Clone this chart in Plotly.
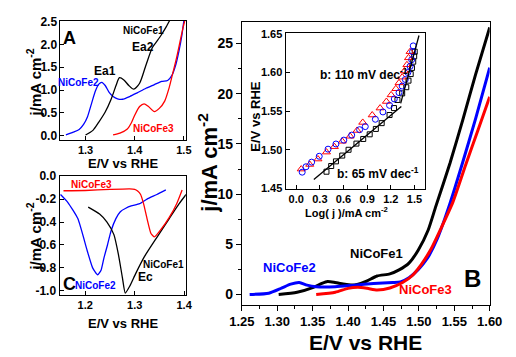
import plotly.graph_objects as go

W, H = 516, 357
FONT = "Liberation Sans, Arial, sans-serif"

# ---------- Panel A (anodic, low current) ----------
a_e_ncf1 = [1.300, 1.315, 1.327, 1.340, 1.352, 1.362, 1.369, 1.378, 1.388, 1.398, 1.410, 1.423, 1.436, 1.446, 1.455, 1.464, 1.471]
a_j_ncf1 = [0.02, 0.12, 0.30, 0.52, 0.80, 1.10, 1.27, 1.22, 1.10, 1.02, 1.15, 1.55, 1.93, 2.08, 2.22, 2.38, 2.52]
a_e_ncf2 = [1.260, 1.275, 1.287, 1.296, 1.304, 1.312, 1.320, 1.327, 1.333, 1.340, 1.348, 1.356, 1.365, 1.375, 1.390, 1.405, 1.423, 1.440, 1.455, 1.467, 1.476, 1.484, 1.490, 1.496, 1.500]
a_j_ncf2 = [0.02, 0.08, 0.14, 0.25, 0.42, 0.70, 0.98, 1.13, 1.17, 1.10, 0.95, 0.86, 0.81, 0.80, 0.86, 0.94, 1.04, 1.12, 1.19, 1.21, 1.33, 1.57, 1.85, 2.20, 2.52]
a_e_ncf3 = [1.356, 1.370, 1.385, 1.393, 1.400, 1.410, 1.419, 1.428, 1.440, 1.450, 1.461, 1.470, 1.477, 1.485, 1.492, 1.498, 1.502]
a_j_ncf3 = [0.02, 0.06, 0.15, 0.28, 0.45, 0.64, 0.70, 0.64, 0.53, 0.60, 0.76, 1.05, 1.35, 1.70, 2.05, 2.35, 2.52]

# ---------- Panel C (cathodic) ----------
c_e_ncf1 = [1.206, 1.229, 1.244, 1.258, 1.267, 1.275, 1.281, 1.290, 1.302, 1.320, 1.344, 1.370, 1.390, 1.404]
c_j_ncf1 = [-0.27, -0.33, -0.40, -0.51, -0.68, -0.88, -1.02, -0.96, -0.85, -0.70, -0.54, -0.37, -0.24, -0.16]
c_e_ncf2 = [1.150, 1.165, 1.185, 1.204, 1.215, 1.225, 1.232, 1.238, 1.245, 1.252, 1.262, 1.271, 1.282, 1.293, 1.310, 1.325, 1.345, 1.363]
c_j_ncf2 = [-0.16, -0.23, -0.37, -0.65, -0.80, -0.86, -0.82, -0.71, -0.60, -0.48, -0.37, -0.31, -0.28, -0.26, -0.24, -0.20, -0.16, -0.12]
c_e_ncf3 = [1.156, 1.200, 1.250, 1.290, 1.300, 1.306, 1.312, 1.318, 1.325, 1.333, 1.340, 1.354, 1.370, 1.385, 1.396]
c_j_ncf3 = [-0.127, -0.125, -0.115, -0.11, -0.115, -0.13, -0.16, -0.24, -0.37, -0.50, -0.53, -0.46, -0.36, -0.24, -0.12]

# ---------- Panel B (full LSV) ----------
b_e_ncf1 = [1.302, 1.328, 1.351, 1.363, 1.371, 1.380, 1.387, 1.398, 1.409, 1.418, 1.427, 1.441, 1.459, 1.472, 1.486, 1.499, 1.513, 1.524, 1.544, 1.562, 1.580, 1.600]
b_j_ncf1 = [0.0, 0.22, 0.71, 1.10, 1.29, 1.22, 1.12, 1.00, 0.95, 1.10, 1.36, 1.84, 2.05, 2.45, 3.13, 4.41, 6.40, 8.80, 13.1, 17.4, 21.9, 26.6]
b_e_ncf2 = [1.261, 1.288, 1.306, 1.319, 1.331, 1.342, 1.355, 1.382, 1.409, 1.436, 1.463, 1.474, 1.486, 1.499, 1.512, 1.526, 1.544, 1.562, 1.580, 1.600]
b_j_ncf2 = [0.0, 0.13, 0.64, 1.03, 1.19, 0.93, 0.77, 0.77, 0.93, 1.09, 1.19, 1.26, 1.67, 2.48, 3.61, 5.55, 9.10, 13.2, 17.5, 22.6]
b_e_ncf3 = [1.355, 1.382, 1.400, 1.414, 1.427, 1.441, 1.459, 1.477, 1.490, 1.503, 1.517, 1.530, 1.548, 1.566, 1.584, 1.600]
b_j_ncf3 = [0.0, 0.22, 0.61, 0.71, 0.61, 0.45, 0.64, 1.19, 1.84, 2.96, 4.50, 6.40, 9.20, 12.9, 16.5, 19.7]

# ---------- Inset (Tafel) ----------
t_log_ncf1 = [0.384, 0.444, 0.504, 0.584, 0.664, 0.764, 0.85, 0.932, 1.01, 1.084, 1.184, 1.24, 1.284, 1.344, 1.396, 1.424, 1.452, 1.468, 1.484, 1.496, 1.503]
t_e_ncf1 = [1.4716, 1.479, 1.485, 1.4925, 1.500, 1.508, 1.514, 1.520, 1.527, 1.5345, 1.545, 1.554, 1.5645, 1.573, 1.581, 1.5895, 1.598, 1.606, 1.614, 1.621, 1.627]
t_log_ncf2 = [0.076, 0.124, 0.196, 0.292, 0.404, 0.504, 0.604, 0.704, 0.804, 0.876, 1.004, 1.10, 1.184, 1.244, 1.304, 1.344, 1.384, 1.416, 1.444, 1.464, 1.476, 1.484]
t_e_ncf2 = [1.471, 1.478, 1.484, 1.4916, 1.5008, 1.5075, 1.5125, 1.519, 1.526, 1.530, 1.5395, 1.549, 1.5575, 1.5658, 1.574, 1.5825, 1.591, 1.600, 1.608, 1.6166, 1.627, 1.6345]
t_log_ncf3 = [0.064, 0.172, 0.276, 0.384, 0.484, 0.584, 0.684, 0.772, 0.844, 0.964, 1.064, 1.144, 1.204, 1.264, 1.304, 1.344, 1.372, 1.404, 1.424, 1.444]
t_e_ncf3 = [1.475, 1.481, 1.488, 1.497, 1.504, 1.511, 1.5175, 1.525, 1.5354, 1.545, 1.554, 1.5625, 1.571, 1.579, 1.5866, 1.594, 1.602, 1.610, 1.619, 1.627]
fit_low_log = [0.224, 1.333]
fit_low_e = [1.4616, 1.556]
fit_high_log = [1.325, 1.557]
fit_high_e = [1.560, 1.648]

BLACK, BLUE, RED = "#000000", "#0000ff", "#ff0000"


def px(x):
    return x / W


def py(y):
    return 1 - y / H


fig = go.Figure()

# Panel A
for e, j, c in [(a_e_ncf2, a_j_ncf2, BLUE), (a_e_ncf1, a_j_ncf1, BLACK), (a_e_ncf3, a_j_ncf3, RED)]:
    fig.add_trace(go.Scatter(x=e, y=j, mode="lines", line=dict(color=c, width=1.3, shape="spline", smoothing=0.7),
                             xaxis="x", yaxis="y", showlegend=False))
# Panel C
for e, j, c in [(c_e_ncf2, c_j_ncf2, BLUE), (c_e_ncf1, c_j_ncf1, BLACK), (c_e_ncf3, c_j_ncf3, RED)]:
    fig.add_trace(go.Scatter(x=e, y=j, mode="lines", line=dict(color=c, width=1.3, shape="spline", smoothing=0.5),
                             xaxis="x2", yaxis="y2", showlegend=False))
# Panel B
for e, j, c in [(b_e_ncf1, b_j_ncf1, BLACK), (b_e_ncf2, b_j_ncf2, BLUE), (b_e_ncf3, b_j_ncf3, RED)]:
    fig.add_trace(go.Scatter(x=e, y=j, mode="lines", line=dict(color=c, width=3, shape="spline", smoothing=0.6),
                             xaxis="x3", yaxis="y3", showlegend=False))
# Inset
fig.add_trace(go.Scatter(x=t_log_ncf1, y=t_e_ncf1, mode="markers",
                         marker=dict(symbol="square-open", size=5, color=BLACK, line=dict(width=1)),
                         xaxis="x4", yaxis="y4", showlegend=False))
fig.add_trace(go.Scatter(x=t_log_ncf3, y=t_e_ncf3, mode="markers",
                         marker=dict(symbol="triangle-up-open", size=7, color=RED, line=dict(width=1)),
                         xaxis="x4", yaxis="y4", showlegend=False))
fig.add_trace(go.Scatter(x=t_log_ncf2, y=t_e_ncf2, mode="markers",
                         marker=dict(symbol="circle-open", size=6, color=BLUE, line=dict(width=1)),
                         xaxis="x4", yaxis="y4", showlegend=False))
fig.add_trace(go.Scatter(x=fit_low_log, y=fit_low_e, mode="lines", line=dict(color=BLACK, width=1.3),
                         xaxis="x4", yaxis="y4", showlegend=False))
fig.add_trace(go.Scatter(x=fit_high_log, y=fit_high_e, mode="lines", line=dict(color=BLACK, width=1.3),
                         xaxis="x4", yaxis="y4", showlegend=False))

tf_small = dict(family=FONT, size=12, color="black", weight="bold")
tf_smallx = dict(family=FONT, size=11, color="black", weight="bold")
tf_inset = dict(family=FONT, size=11, color="black", weight="bold")

common = dict(showline=True, linecolor="black", linewidth=1, mirror=True, showgrid=False, zeroline=False,
              ticks="inside", ticklen=4, tickcolor="black", tickwidth=1)

fig.update_layout(
    width=W, height=H, margin=dict(l=0, r=0, t=0, b=0),
    paper_bgcolor="white", plot_bgcolor="rgba(0,0,0,0)",
    font=dict(family=FONT, color="black"),
    xaxis=dict(domain=[px(50), px(182)], range=[1.249, 1.504], anchor="y", tickvals=[1.3, 1.4, 1.5],
               ticktext=["1.3", "1.4", "1.5"], tickfont=tf_smallx, ticklabelstandoff=0, **common),
    yaxis=dict(domain=[py(138), py(15)], range=[-0.085, 2.52], anchor="x", tickvals=[0, 0.5, 1.0, 1.5, 2.0, 2.5],
               ticktext=["0.0", "0.5", "1.0", "1.5", "2.0", "2.5"], tickfont=tf_small, **common),
    xaxis2=dict(domain=[px(49), px(182)], range=[1.148, 1.4035], anchor="y2", tickvals=[1.2, 1.3, 1.4],
                ticktext=["1.2", "1.3", "1.4"], tickfont=tf_smallx, ticklabelstandoff=0, **common),
    yaxis2=dict(domain=[py(298), py(175)], range=[-1.035, 0.005], anchor="x2",
                tickvals=[0, -0.2, -0.4, -0.6, -0.8, -1.0],
                ticktext=["0.0", "-0.2", "-0.4", "-0.6", "-0.8", "-1.0"], tickfont=tf_small, **common),
    xaxis3=dict(domain=[px(241), px(502)], range=[1.25, 1.60], anchor="y3",
                tickvals=[1.25, 1.30, 1.35, 1.40, 1.45, 1.50, 1.55, 1.60],
                ticktext=["1.25", "1.30", "1.35", "1.40", "1.45", "1.50", "1.55", "1.60"],
                tickfont=dict(family=FONT, size=13, color="black", weight="bold"),
                minor=dict(dtick=0.025, ticks="outside", ticklen=3, tickcolor="black"),
                **{**common, "ticks": "outside", "ticklen": 5}),
    yaxis3=dict(domain=[py(308), py(16)], range=[-1.0, 27.2], anchor="x3",
                tickvals=[0, 5, 10, 15, 20, 25], ticktext=["0", "5", "10", "15", "20", "25"],
                tickfont=dict(family=FONT, size=14, color="black", weight="bold"),
                minor=dict(dtick=2.5, ticks="outside", ticklen=3, tickcolor="black"),
                **{**common, "ticks": "outside", "ticklen": 5}),
    xaxis4=dict(domain=[px(287), px(434)], range=[-0.135, 1.635], anchor="y4",
                tickvals=[0.0, 0.3, 0.6, 0.9, 1.2, 1.5], ticktext=["0.0", "0.3", "0.6", "0.9", "1.2", "1.5"],
                tickfont=tf_inset, **common),
    yaxis4=dict(domain=[py(189), py(28)], range=[1.449, 1.651], anchor="x4",
                tickvals=[1.45, 1.50, 1.55, 1.60, 1.65], ticktext=["1.45", "1.50", "1.55", "1.60", "1.65"],
                tickfont=tf_inset, **common),
)

ann = []


def add_text(text, x, y, size, color="black", angle=0):
    ann.append(dict(text=text, x=px(x), y=py(y), xref="paper", yref="paper", showarrow=False,
                    xanchor="center", yanchor="middle", textangle=angle,
                    font=dict(family=FONT, size=size, color=color, weight="bold")))


# axis titles
add_text("j/mA cm<sup>-2</sup>", 22, 79, 15, angle=-90)
add_text("E/V vs RHE", 116, 162, 13)
add_text("j/mA cm<sup>-2</sup>", 22, 238, 15, angle=-90)
add_text("E/V vs RHE", 116, 328, 13)
add_text("j/mA cm<sup>-2</sup>", 205, 162, 22, angle=-90)
add_text("E/V vs RHE", 371, 347, 21)
add_text("E/V vs RHE", 255, 114, 13, angle=-90)
add_text("Log( j )/mA cm<sup>-2</sup>", 351, 213, 11)

# panel A labels
add_text("A", 60, 33, 18)
add_text("NiCoFe1", 137, 25, 10)
add_text("Ea2", 137, 42, 12)
add_text("Ea1", 97, 67, 12)
add_text("NiCoFe2", 69, 79, 10, BLUE)
add_text("NiCoFe3", 148, 126, 10, RED)
# panel C labels
add_text("NiCoFe3", 83, 184, 10, RED)
add_text("C", 59, 287, 18)
add_text("NiCoFe2", 87, 288, 10, BLUE)
add_text("NiCoFe1", 158, 267, 10)
add_text("Ec", 140, 280, 12)
# panel B labels
add_text("NiCoFe2", 291, 270, 13, BLUE)
add_text("NiCoFe1", 383, 255, 13)
add_text("NiCoFe3", 434, 293, 13, RED)
add_text("B", 484, 281, 24)
add_text("b: 110 mV dec<sup>-1</sup>", 370, 70, 12)
add_text("b: 65 mV dec<sup>-1</sup>", 384, 172, 12)

fig.update_layout(annotations=ann)
fig.write_html("out.html")
